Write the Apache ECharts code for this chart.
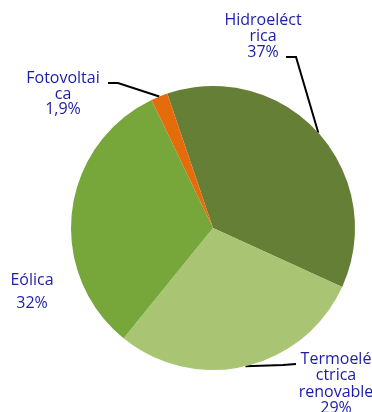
<!DOCTYPE html>
<html>
<head>
<meta charset="utf-8">
<script src="https://cdn.jsdelivr.net/npm/echarts@6/dist/echarts.min.js"></script>
<style>
  html, body { margin: 0; padding: 0; background: #fff; }
  #chart { width: 372px; height: 412px; }
</style>
</head>
<body>
<div id="chart"></div>
<script>
// Renewable electricity generation shares (%)
const categories = ['Hidroeléctrica', 'Termoeléctrica renovable', 'Eólica', 'Fotovoltaica'];
const shares = [37, 29, 32, 1.9];
// Label text as wrapped in the chart
const labelTexts = ['Hidroeléct\nrica', 'Termoelé\nctrica\nrenovable', 'Eólica', 'Fotovoltai\nca'];
const colors = ['#667f36', '#a9c574', '#77a73a', '#e46c0a'];

// Label anchor (centre-top) and leader-line elbow for each slice
const labelAnchors = [
  { x: 263, y: 12, lh: 16, elbow: [[296, 57], [286, 57]] },
  { x: 336, y: 351, lh: 16.5, elbow: [[283, 365], [296, 364]] },
  { x: 32, y: 269, lh: 23, elbow: null },
  { x: 63, y: 71, lh: 15.5, elbow: [[118, 83], [108, 83]] }
];

const fmtPct = v => String(v).replace('.', ',') + '%';

const data = categories.map((name, i) => ({
  name: name,
  value: shares[i],
  itemStyle: { color: colors[i] },
  label: {
    formatter: labelTexts[i] + '\n' + fmtPct(shares[i]),
    lineHeight: labelAnchors[i].lh
  },
  labelLine: { show: labelAnchors[i].elbow !== null }
}));

const chart = echarts.init(document.getElementById('chart'), null, { renderer: 'canvas' });
chart.setOption({
  animation: false,
  backgroundColor: '#ffffff',
  series: [{
    type: 'pie',
    center: [213, 228],
    radius: [0, 142],
    startAngle: 108.8,
    clockwise: true,
    avoidLabelOverlap: false,
    data: data,
    label: {
      show: true,
      position: 'outside',
      color: '#1c1ca8',
      fontFamily: '"Open Sans", sans-serif',
      fontSize: 16,
      align: 'center',
      overflow: 'none'
    },
    labelLine: {
      show: true,
      lineStyle: { color: '#000', width: 2 }
    },
    labelLayout: function (params) {
      const a = labelAnchors[params.dataIndex];
      const out = {
        x: a.x,
        y: a.y,
        align: 'center',
        verticalAlign: 'top',
        hideOverlap: false
      };
      if (a.elbow && params.labelLinePoints) {
        const start = params.labelLinePoints[0];
        out.labelLinePoints = [start, a.elbow[0], a.elbow[1]];
      }
      return out;
    },
    emphasis: { disabled: true }
  }]
});
</script>
</body>
</html>
